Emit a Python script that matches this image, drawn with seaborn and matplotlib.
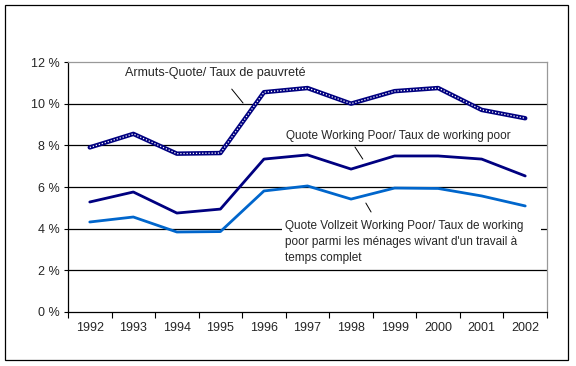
import numpy as np
import pandas as pd
import seaborn as sns
import matplotlib.pyplot as plt
from matplotlib.patches import Rectangle

# data (percent)
years = ['1992', '1993', '1994', '1995', '1996', '1997', '1998', '1999', '2000', '2001', '2002']
armut = [7.9, 8.55, 7.6, 7.63, 10.55, 10.75, 10.0, 10.6, 10.75, 9.7, 9.3]
working_poor = [5.28, 5.76, 4.75, 4.94, 7.34, 7.54, 6.86, 7.49, 7.49, 7.34, 6.53]
vollzeit = [4.32, 4.56, 3.84, 3.86, 5.81, 6.05, 5.42, 5.95, 5.93, 5.57, 5.09]
y_ticks = [0, 2, 4, 6, 8, 10, 12]

sns.set_style("white")
plt.rcParams['font.family'] = ['Liberation Sans', 'DejaVu Sans']

df = pd.DataFrame({'pos': np.arange(len(years)), 'armut': armut,
                   'wp': working_poor, 'vz': vollzeit})

fig = plt.figure(figsize=(5.76, 3.66), dpi=100)
ax = fig.add_axes([68/576, 1 - 312/366, (547 - 68)/576, (312 - 62)/366])

# gridlines
for v in y_ticks[1:-1]:
    ax.axhline(v, color='black', lw=0.9, zorder=1)

# white text box of the third label covers the gridline
ax.add_patch(Rectangle((4.41, 2.2), 5.95, 2.3, facecolor='white', edgecolor='none', zorder=2))

sns.lineplot(data=df, x='pos', y='vz', ax=ax, color='#0066CC', linewidth=2.0, zorder=3)
sns.lineplot(data=df, x='pos', y='wp', ax=ax, color='#000080', linewidth=2.0, zorder=3)
sns.lineplot(data=df, x='pos', y='armut', ax=ax, color='#000080', linewidth=3.2, zorder=4)
ax.plot(df['pos'], df['armut'], color='white', lw=0.9, ls=(0, (1, 1.5)), zorder=5)

ax.set_xlim(-0.5, len(years) - 0.5)
ax.set_ylim(0, 12)
ax.set_xlabel('')
ax.set_ylabel('')

ax.set_yticks(y_ticks)
ax.set_yticklabels([f'{v} %' for v in y_ticks], fontsize=9)
ax.set_xticks(np.arange(-0.5, len(years), 1.0))
ax.set_xticklabels([])
ax.set_xticks(np.arange(len(years)), minor=True)
ax.set_xticklabels(years, minor=True, fontsize=9)
ax.tick_params(axis='y', which='major', direction='out', length=3, width=0.8, pad=3, left=True, color='black')
ax.tick_params(axis='x', which='major', direction='out', length=4, width=0.8, bottom=True, color='black')
ax.tick_params(axis='x', which='minor', length=0, pad=7)

for s in ['left', 'bottom']:
    ax.spines[s].set_color('black')
    ax.spines[s].set_linewidth(0.9)
for s in ['top', 'right']:
    ax.spines[s].set_color('#999999')
    ax.spines[s].set_linewidth(0.9)

# labels + leader lines
ax.text(0.81, 11.47, 'Armuts-Quote/ Taux de pauvreté', fontsize=9, ha='left', va='center', zorder=6)
ax.plot([3.26, 3.52], [10.70, 10.03], color='black', lw=0.7, zorder=6)
ax.text(4.50, 8.45, 'Quote Working Poor/ Taux de working poor', fontsize=8.5, ha='left', va='center', zorder=6)
ax.plot([6.09, 6.27], [7.92, 7.34], color='black', lw=0.7, zorder=6)
ax.text(4.48, 3.36, "Quote Vollzeit Working Poor/ Taux de working\npoor parmi les ménages wivant d'un travail à\ntemps complet",
        fontsize=8.5, ha='left', va='center', linespacing=1.4, zorder=6)
ax.plot([6.34, 6.46], [5.23, 4.80], color='black', lw=0.7, zorder=6)

# outer frame
fig.patches.append(Rectangle((5/576, 1 - 360/366), 563/576, 355/366, transform=fig.transFigure,
                             fill=False, edgecolor='black', lw=0.9))

fig.savefig('out.png', dpi=100)
